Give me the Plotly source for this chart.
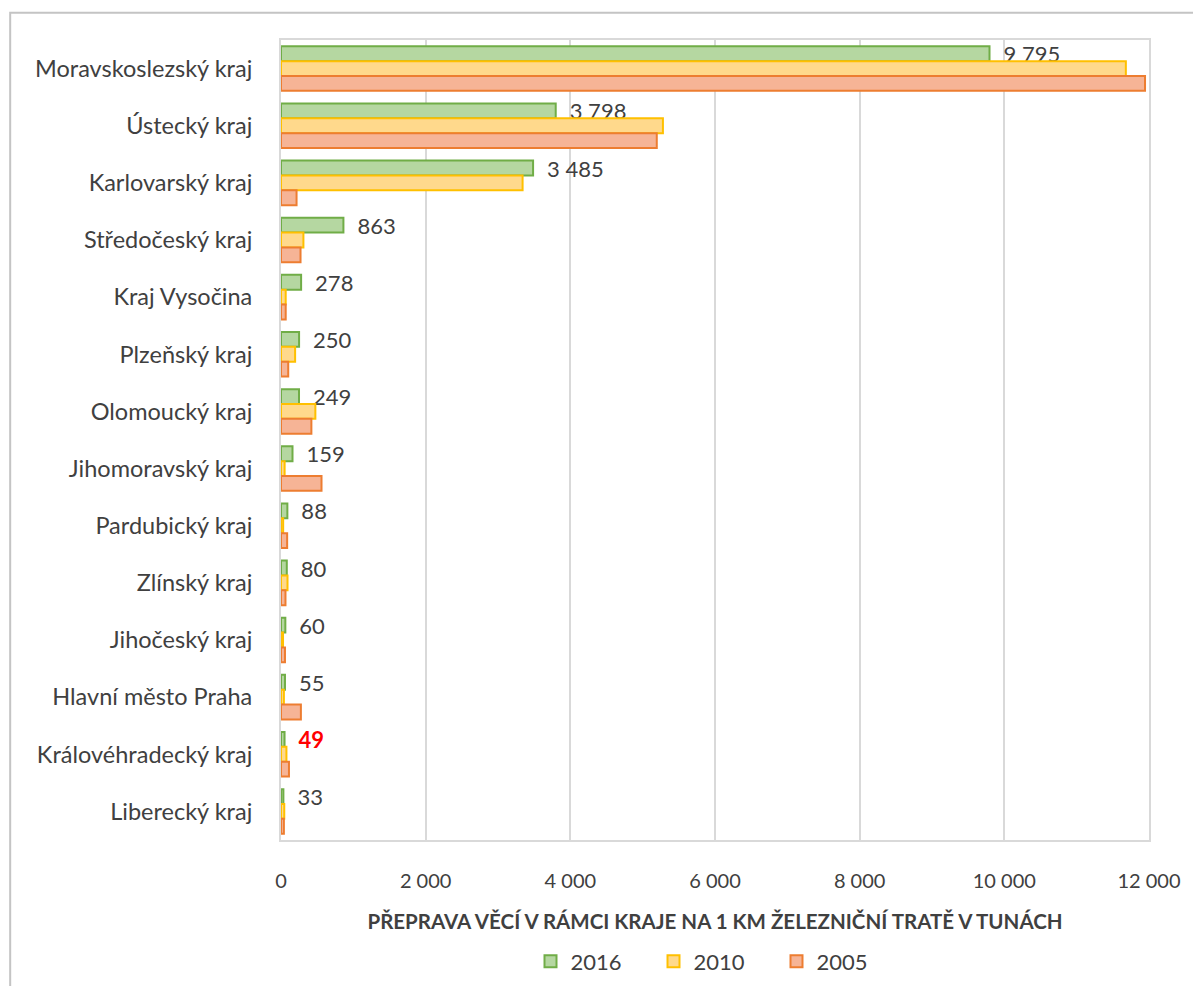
import plotly.graph_objects as go

regions = ["Moravskoslezský kraj", "Ústecký kraj", "Karlovarský kraj", "Středočeský kraj",
           "Kraj Vysočina", "Plzeňský kraj", "Olomoucký kraj", "Jihomoravský kraj",
           "Pardubický kraj", "Zlínský kraj", "Jihočeský kraj", "Hlavní město Praha",
           "Královéhradecký kraj", "Liberecký kraj"]
v2016 = [9795, 3798, 3485, 863, 278, 250, 249, 159, 88, 80, 60, 55, 49, 33]
v2010 = [11680, 5280, 3340, 310, 65, 195, 475, 50, 30, 90, 28, 40, 75, 45]
v2005 = [11945, 5195, 215, 270, 65, 100, 420, 560, 85, 62, 55, 275, 110, 40]
highlight = "Královéhradecký kraj"

x_ticks = [0, 2000, 4000, 6000, 8000, 10000, 12000]
x_title = "PŘEPRAVA VĚCÍ V RÁMCI KRAJE NA 1 KM ŽELEZNIČNÍ TRATĚ V TUNÁCH"

FONT = "Lato"
TXT = "#404040"

def fmt(v):
    return f"{v:,}".replace(",", " ")

labels = ["\u2002" + (f"<b>{fmt(v)}</b>" if r == highlight else fmt(v))
          for r, v in zip(regions, v2016)]
label_colors = ["#ff0000" if r == highlight else TXT for r in regions]

series = [
    ("2016", v2016, "#b5d7a1", "#70ad47"),
    ("2010", v2010, "#ffd98c", "#ffc000"),
    ("2005", v2005, "#f6b496", "#ed7d31"),
]

fig = go.Figure()
for name, vals, fill, line in series:
    kw = {}
    if name == "2016":
        kw = dict(text=labels, textposition="outside", constraintext="none",
                  textfont=dict(size=22, color=label_colors, family=FONT), cliponaxis=False)
    fig.add_trace(go.Bar(
        y=regions, x=vals, name=name, orientation="h",
        marker=dict(color=fill, line=dict(color=line, width=2)),
        hoverinfo="skip", **kw))

fig.update_layout(
    width=1193, height=978,
    margin=dict(l=273, r=52, t=32, b=146, autoexpand=False),
    barmode="group", bargap=0.22, bargroupgap=0,
    plot_bgcolor="white", paper_bgcolor="white",
    separators=", ",
    font=dict(family=FONT, size=20, color=TXT),
    legend=dict(orientation="h", xref="paper", x=0.5, xanchor="center",
                yref="container", y=0.025, yanchor="middle",
                font=dict(size=22, color=TXT, family=FONT), traceorder="normal",
                itemwidth=30, entrywidth=78, tracegroupgap=0),
    showlegend=True,
)
fig.update_xaxes(range=[0, 12000], tickvals=x_ticks, tickformat=",d", automargin=False,
                 showgrid=True, gridcolor="#d9d9d9", gridwidth=2,
                 showline=True, linecolor="#d9d9d9", linewidth=2, mirror=True,
                 zeroline=False, ticks="", ticklabelstandoff=22,
                 tickfont=dict(size=20, color=TXT, family=FONT),
                 title=dict(text=f"<b>{x_title}</b>", font=dict(size=20.5, color=TXT, family=FONT),
                            standoff=24))
fig.update_yaxes(autorange="reversed", automargin=False,
                 showline=True, linecolor="#d9d9d9", linewidth=2,
                 mirror=True, ticks="", ticklabelstandoff=22,
                 tickfont=dict(size=23.5, color=TXT, family=FONT))

# outer chart border (extends past the right and bottom edges)
fig.add_shape(type="rect", xref="paper", yref="paper",
              x0=-0.312, x1=1.3, y0=-0.4, y1=1.034,
              line=dict(color="#c4c4c4", width=2), layer="below")

fig.write_html("out.html")
